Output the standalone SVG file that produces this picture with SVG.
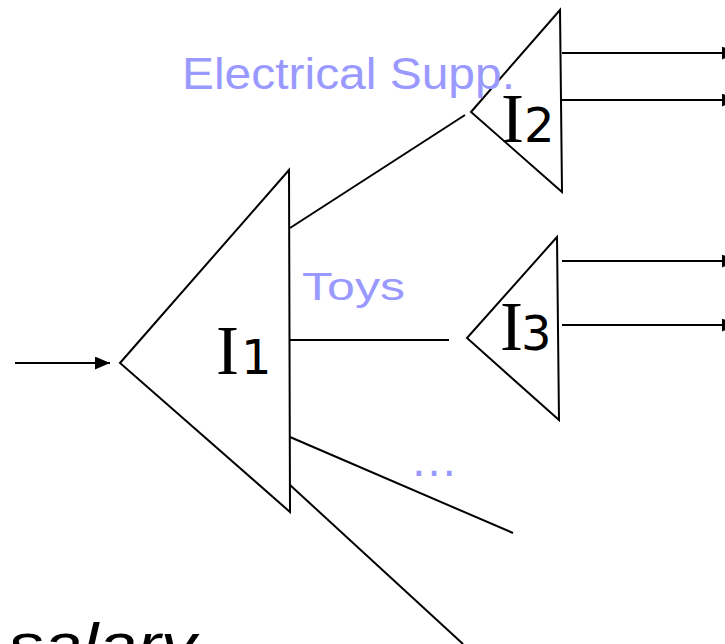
<svg xmlns="http://www.w3.org/2000/svg" width="725" height="644" viewBox="0 0 725 644">
<style>
.tri{fill:none;stroke:#000;stroke-width:2;stroke-linejoin:miter}
.ln{fill:none;stroke:#000;stroke-width:2}
.lbl{font-family:"Liberation Sans",Arial,sans-serif;fill:#9999FF}
.I{font-family:"Liberation Serif","Times New Roman",serif;font-size:69px;fill:#000}
.d{font-family:"DejaVu Sans",Verdana,sans-serif;font-size:48px;fill:#000}
</style>
<defs>
<marker id="ah" viewBox="0 0 15 13" refX="15" refY="6.5" markerWidth="15" markerHeight="13" markerUnits="userSpaceOnUse" orient="auto">
<path d="M0,0 L15,6.5 L0,13 Z" fill="#000"/>
</marker>
</defs>
<rect width="725" height="644" fill="#fff"/>
<g id="connectors">
<line class="ln" x1="15" y1="363" x2="110" y2="363" marker-end="url(#ah)"/>
<line class="ln" x1="290" y1="228" x2="465" y2="115"/>
<line class="ln" x1="290" y1="340" x2="449" y2="340"/>
<line class="ln" x1="290" y1="437" x2="513" y2="533"/>
<line class="ln" x1="290" y1="485" x2="463" y2="644"/>
<line class="ln" x1="562" y1="53" x2="737" y2="53" marker-end="url(#ah)"/>
<line class="ln" x1="562" y1="100" x2="737" y2="100" marker-end="url(#ah)"/>
<line class="ln" x1="562" y1="261" x2="737" y2="261" marker-end="url(#ah)"/>
<line class="ln" x1="562" y1="325" x2="737" y2="325" marker-end="url(#ah)"/>
</g>
<g id="I1">
<polygon class="tri" points="289,170 120,363 290,512"/>
<text class="I" x="216" y="374">I</text><text class="d" x="241" y="374">1</text>
</g>
<g id="I2">
<polygon class="tri" points="560,10 471,112 562,192"/>
<text class="I" x="501" y="142">I</text><text class="d" x="524" y="142">2</text>
</g>
<g id="I3">
<polygon class="tri" points="557,237 467,338 559,420"/>
<text class="I" x="500" y="350">I</text><text class="d" x="521" y="350">3</text>
</g>
<g id="labels">
<text class="lbl" x="182" y="89" font-size="45" textLength="333" lengthAdjust="spacingAndGlyphs">Electrical Supp.</text>
<text class="lbl" x="302" y="300" font-size="38" textLength="103" lengthAdjust="spacingAndGlyphs">Toys</text>
<text class="lbl" x="410" y="476" font-size="48">…</text>
<text x="8" y="665" font-family="'Liberation Sans',Arial,sans-serif" font-style="italic" font-size="60" fill="#000" textLength="188" lengthAdjust="spacingAndGlyphs">salary</text>
</g>
</svg>
